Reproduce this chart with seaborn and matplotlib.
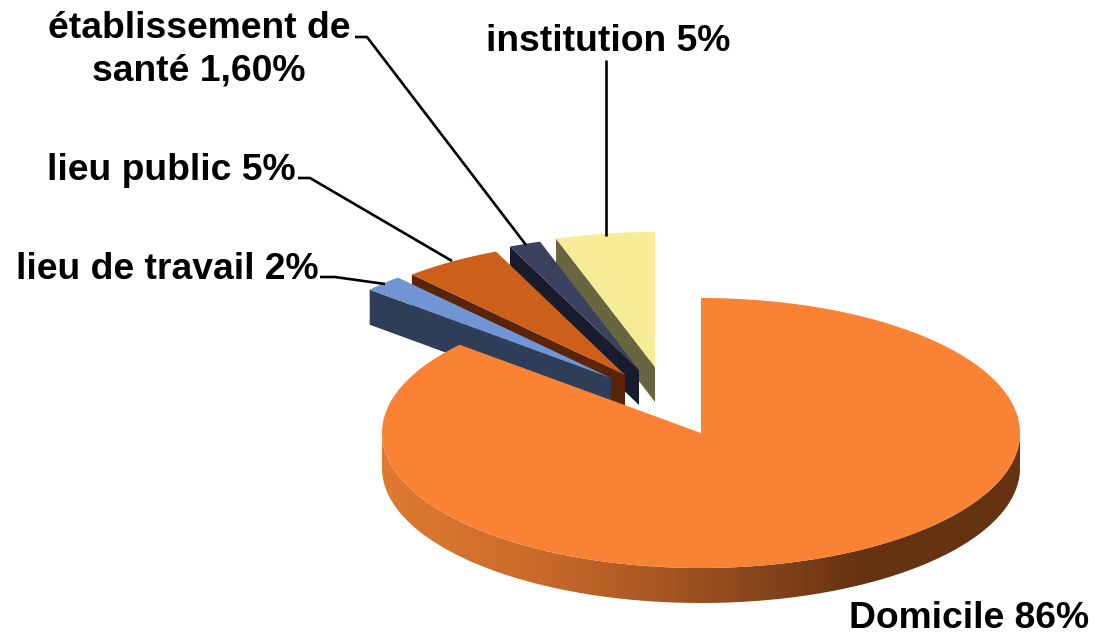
import numpy as np
import matplotlib
matplotlib.use("Agg")
import matplotlib.pyplot as plt
from matplotlib.patches import Polygon
import seaborn as sns

# clockwise from 12 o'clock, as in the original
categories = ["Domicile", "lieu de travail", "lieu public", "établissement de santé", "institution"]
values = [86, 2, 5, 1.6, 5]
labels = ["Domicile 86%", "lieu de travail 2%", "lieu public 5%", "établissement de\nsanté 1,60%", "institution 5%"]

top_colors = ["#F98235", "#7094D4", "#CC5F1A", "#3A4260", "#F7EC96"]
side_colors = [None, "#2E3D58", "#592408", "#181C2C", "#696540"]
wall_colors = ["#E07A30", "#C96A2A", "#9A5020", "#663312", "#663312"]

CX, CY = 701, 433
RX, RY = 319, 135
DEPTH = 35

# how far the small slices are pulled out of the pie (pixels)
offsets = [(0, 0), (-90, -55), (-76, -58), (-62, -63), (-46, -66)]
# label anchor (last line baseline) and leader line per slice
label_pos = [(969, 628), (167, 279), (171, 180), (199, 81), (608, 51)]
leaders = [
    None,
    [(320, 277), (335, 277), (385, 284)],
    [(298, 178), (310, 178), (452, 261)],
    [(355, 37), (367, 37), (526, 245)],
    [(606, 60), (606, 236)],
]


def rim(t0, t1, cx=CX, cy=CY, n=80):
    t = np.radians(np.linspace(t0, t1, n))
    return np.column_stack([cx + RX * np.sin(t), cy - RY * np.cos(t)])


def main():
    sns.set_theme(style="white")
    plt.rcParams["font.family"] = ["Liberation Sans", "DejaVu Sans"]

    fig = plt.figure(figsize=(10.95, 6.35), dpi=100)
    ax = fig.add_axes([0, 0, 1, 1])

    angles = np.concatenate([[0], np.cumsum(values) / np.sum(values) * 360])

    # small slices back to front, each one covers part of the previous side face
    for i in range(len(values) - 1, 0, -1):
        t0, t1 = angles[i], angles[i + 1]
        cx, cy = CX + offsets[i][0], CY + offsets[i][1]
        apex = np.array([[cx, cy]])
        edge = rim(t0, t0, cx, cy, n=1)
        side = np.vstack([apex, edge, edge + [0, DEPTH], apex + [0, DEPTH]])
        ax.add_patch(Polygon(side, closed=True, fc=side_colors[i], ec="none"))
        ax.add_patch(Polygon(np.vstack([apex, rim(t0, t1, cx, cy)]), closed=True,
                             fc=top_colors[i], ec="none"))

    # outer wall of the big slice, with the shading running left to right
    arc = rim(90, 270, n=200)
    wall = np.vstack([arc, (arc + [0, DEPTH])[::-1]])
    wall_patch = Polygon(wall, closed=True, fc="none", ec="none")
    ax.add_patch(wall_patch)
    shade = sns.blend_palette(wall_colors, 256)
    img = ax.imshow(np.array(shade)[None, :, :], aspect="auto", interpolation="bilinear",
                    extent=(CX - RX, CX + RX, CY + RY + DEPTH, CY))
    img.set_clip_path(wall_patch)

    ax.add_patch(Polygon(np.vstack([[[CX, CY]], rim(angles[0], angles[1], n=300)]), closed=True,
                         fc=top_colors[0], ec="none"))

    for pos, label, leader in zip(label_pos, labels, leaders):
        ax.text(pos[0], pos[1], label, ha="center", va="baseline", fontsize=26.8,
                fontweight="bold", color="black", linespacing=1.3)
        if leader:
            ax.plot(*zip(*leader), color="black", lw=1.9, solid_capstyle="butt")

    ax.set_xlim(0, 1095)
    ax.set_ylim(635, 0)
    ax.axis("off")
    fig.savefig("out.png", dpi=100)


if __name__ == "__main__":
    main()
